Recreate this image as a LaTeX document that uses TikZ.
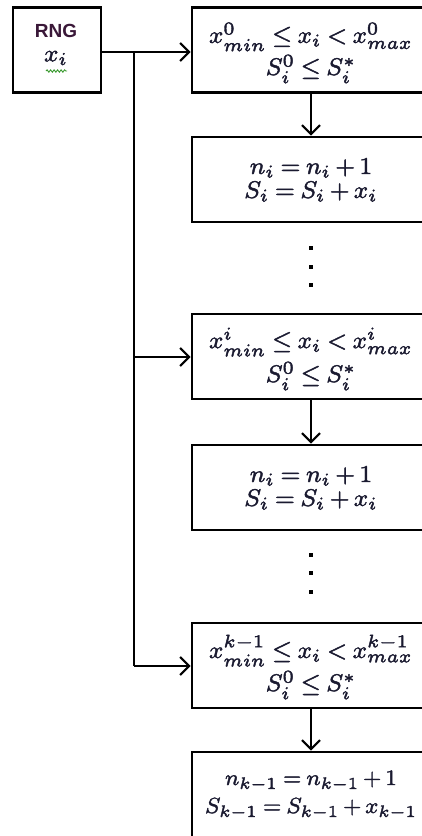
\documentclass[tikz,border=0pt]{standalone}
\usepackage{fontspec}
\newfontfamily\arialfont{Liberation Sans}
\usetikzlibrary{arrows.meta,decorations.pathmorphing}
\definecolor{txt}{HTML}{1A1A30}
\definecolor{rng}{HTML}{3A1838}
\definecolor{squig}{HTML}{3A9A30}
\newcommand\fakebold[1]{\special{pdf:code 2 Tr 0.14 w}#1\special{pdf:code 0 Tr}}
\newcommand\twoln[4][3.0]{\scalebox{#1}{\fontsize{8}{#2}\selectfont\thickmuskip=4mu plus 2mu\medmuskip=3mu plus 1mu\fakebold{\vbox{\lineskiplimit=-100pt\halign{\hfil##\hfil\cr$#3$\cr$#4$\cr}}}}}
\begin{document}
\begin{tikzpicture}[x=1pt,y=-1pt,
  box/.style={draw=black,line width=2.6pt,minimum width=238pt,minimum height=85pt,inner sep=0pt},
  lbl/.style={text=txt,inner sep=0pt},
  conn/.style={line width=2.6pt,-{Straight Barb[length=9pt,width=18pt,line width=2.2pt]}},
  wire/.style={line width=2.6pt},
  dot/.style={fill=black,minimum size=4.5pt,inner sep=0pt}]
\useasboundingbox (0,0) rectangle (422,836);
\clip (0,0) rectangle (422,836);
\node[draw=black,line width=2.6pt,minimum width=88pt,minimum height=85pt,inner sep=0pt] (rng) at (57,50) {};
\node[text=rng,font=\arialfont\bfseries\fontsize{19}{22}\selectfont] (rngt) at (56,31) {RNG};
\node[lbl] (rngx) at (56,58) {\scalebox{3.0}{\fontsize{8}{9}\selectfont\fakebold{$x_i$}}};
\draw[squig,line width=0.9pt,decorate,decoration={snake,amplitude=1.2pt,segment length=3.5pt}] (46,71) -- (67,71);
\node[box] (b1) at (311,50) {};
\node[lbl] (t1) at (311,53) {\twoln{10.7}{x^0_{min}\le x_i< x^0_{max}}{S^0_i\le S^*_i}};
\node[box] (b2) at (311,179.5) {};
\node[lbl] (t2) at (311,180) {\twoln{8.0}{n_i=n_i+1}{S_i=S_i+x_i}};
\node[box] (b3) at (311,356.5) {};
\node[lbl] (t3) at (311,359) {\twoln{11.3}{x^i_{min}\le x_i< x^i_{max}}{S^0_i\le S^*_i}};
\node[box] (b4) at (311,487.5) {};
\node[lbl] (t4) at (311,488) {\twoln{8.0}{n_i=n_i+1}{S_i=S_i+x_i}};
\node[box] (b5) at (311,665.5) {};
\node[lbl] (t5) at (311,667) {\twoln{11.0}{x^{k-1}_{min}\le x_i< x^{k-1}_{max}}{S^0_i\le S^*_i}};
\node[box] (b6) at (311,794.5) {};
\node[lbl] (t6) at (311,795) {\twoln[2.75]{10.2}{n_{k-1}=n_{k-1}+1}{S_{k-1}=S_{k-1}+x_{k-1}}};
\node[dot] (d1) at (311,248) {};
\node[dot] (d2) at (311,267) {};
\node[dot] (d3) at (311,285) {};
\node[dot] (d4) at (311,555) {};
\node[dot] (d5) at (311,573) {};
\node[dot] (d6) at (311,592) {};
\coordinate (j1) at (134,52);
\coordinate (j3) at (134,357);
\coordinate (j5) at (134,666);
\draw[conn] (rng.east|-j1) -- (b1.west|-j1);
\draw[wire] (j1) -- (j5);
\draw[conn] (j3) -- (b3.west|-j3);
\draw[conn] (j5) -- (b5.west|-j5);
\draw[conn] (b1.south) -- (b2.north);
\draw[conn] (b3.south) -- (b4.north);
\draw[conn] (b5.south) -- (b6.north);
\end{tikzpicture}
\end{document}
